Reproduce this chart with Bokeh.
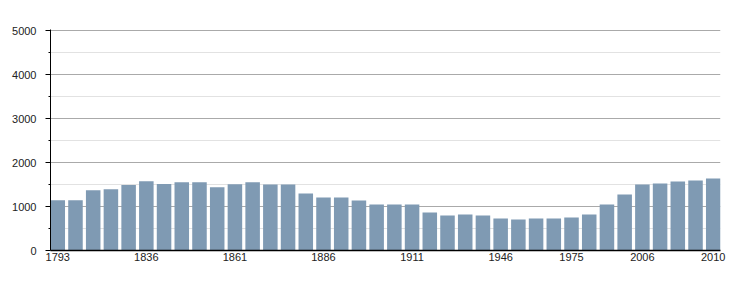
from bokeh.plotting import figure
from bokeh.models import Range1d, FixedTicker, ColumnDataSource
from bokeh.embed import file_html
from bokeh.resources import INLINE

years = [1793, 1800, 1806, 1821, 1831, 1836, 1841, 1846, 1851, 1856,
         1861, 1866, 1872, 1876, 1881, 1886, 1891, 1896, 1901, 1906,
         1911, 1921, 1926, 1931, 1936, 1946, 1954, 1962, 1968, 1975,
         1982, 1990, 1999, 2006, 2007, 2008, 2009, 2010]
population = [1140, 1140, 1368, 1390, 1489, 1573, 1512, 1550, 1550, 1436,
              1505, 1550, 1500, 1500, 1295, 1205, 1205, 1136, 1045, 1045,
              1045, 864, 795, 818, 795, 727, 705, 727, 727, 750,
              818, 1045, 1273, 1500, 1523, 1568, 1591, 1636]
labeled_years = [1793, 1836, 1861, 1886, 1911, 1946, 1975, 2006, 2010]
y_ticks = [0, 1000, 2000, 3000, 4000, 5000]
y_minor = [500, 1500, 2500, 3500, 4500]

idx = list(range(1, len(years) + 1))
bar_w = 0.82
src = ColumnDataSource(dict(x=idx, top=population))

p = figure(width=750, height=300, output_backend="svg", toolbar_location=None,
           x_range=Range1d(1 - bar_w / 2, len(years) + bar_w / 2),
           y_range=Range1d(0, 5025),
           min_border_left=50, min_border_right=30,
           min_border_top=29, min_border_bottom=50)
p.outline_line_color = None
p.background_fill_color = "white"
p.border_fill_color = "white"

p.vbar(x="x", top="top", width=bar_w, source=src, fill_color="#7f9ab3", line_color=None)

# x axis
tick_pos = [years.index(y) + 1 for y in labeled_years]
p.xaxis.ticker = FixedTicker(ticks=tick_pos)
p.xaxis.major_label_overrides = {t: str(y) for t, y in zip(tick_pos, labeled_years)}
p.xaxis.major_tick_line_color = None
p.xaxis.major_tick_out = 0
p.xaxis.major_tick_in = 0
p.xaxis.minor_tick_line_color = None
p.xaxis.axis_line_color = "black"
p.xaxis.axis_line_width = 1.5
p.xaxis.major_label_text_font = "Liberation Sans"
p.xaxis.major_label_text_font_size = "11px"
p.xaxis.major_label_text_color = "#222222"
p.xaxis.major_label_standoff = 2
p.xgrid.grid_line_color = None

# y axis
p.yaxis.ticker = FixedTicker(ticks=y_ticks, minor_ticks=y_minor)
p.yaxis.axis_line_color = "black"
p.yaxis.axis_line_width = 1
p.yaxis.major_tick_out = 5
p.yaxis.major_tick_in = 0
p.yaxis.minor_tick_out = 2
p.yaxis.minor_tick_in = 0
p.yaxis.major_tick_line_color = "black"
p.yaxis.minor_tick_line_color = "black"
p.yaxis.major_label_text_font = "Liberation Sans"
p.yaxis.major_label_text_font_size = "11px"
p.yaxis.major_label_text_color = "#222222"
p.yaxis.major_label_standoff = 9
p.ygrid.grid_line_color = "#aaaaaa"
p.ygrid.grid_line_width = 1
p.ygrid.minor_grid_line_color = "#e2e2e2"
p.ygrid.minor_grid_line_width = 1

open("out.html", "w").write(file_html(p, INLINE))
